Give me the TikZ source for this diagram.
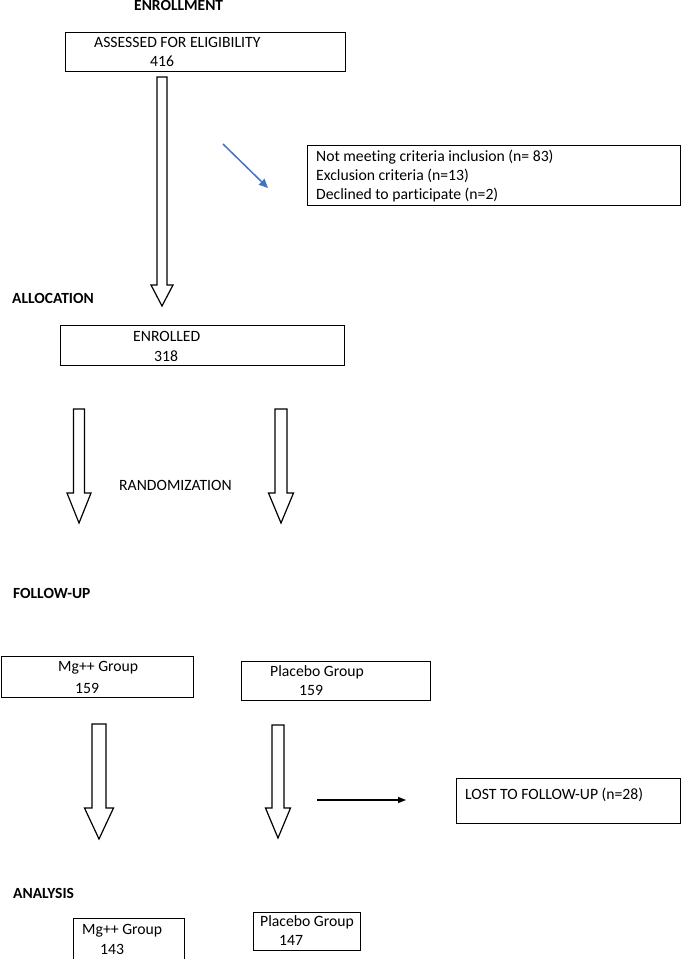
\documentclass[tikz,border=0pt]{standalone}
\usepackage{fontspec}
\setmainfont{Carlito}[Ligatures=NoCommon]
\usetikzlibrary{arrows.meta}

\definecolor{officeblue}{RGB}{68,114,196}

% hollow block arrow: centre x, top, head base, tip, shaft half width, head half width
\newcommand\blockarrow[6]{%
	\draw[blockarr] (#1-#5,#2) -- (#1+#5,#2) -- (#1+#5,#3) -- (#1+#6,#3)
		-- (#1,#4) -- (#1-#6,#3) -- (#1-#5,#3) -- cycle;
}

\begin{document}
\begin{tikzpicture}[
	x=1pt, y=-1pt,
	every node/.append style = {inner sep=0pt, font=\fontsize{15.7}{19}\selectfont},
	box/.style = {draw, line width=1pt, anchor=north west},
	txt/.style = {anchor=west},
	head/.style = {anchor=west, font=\fontsize{15.5}{19}\selectfont\bfseries},
	blockarr/.style = {draw, line width=1.2pt, fill=white, line join=miter}
]
\useasboundingbox (0,0) rectangle (685,959);

% stage headings
\node[head] (henroll) at (134,5) {ENROLLMENT};
\node[head] (halloc) at (12,298) {ALLOCATION};
\node[head] (hfollow) at (13,593) {FOLLOW-UP};
\node[head] (hanalys) at (13,893) {ANALYSIS};

% boxes
\node[box, minimum width=280, minimum height=39] (elig) at (65,32) {};
\node[box, minimum width=373, minimum height=60] (excl) at (307,145) {};
\node[box, minimum width=284, minimum height=40] (enrol) at (60,325) {};
\node[box, minimum width=192, minimum height=41] (mgfol) at (0.5,656) {};
\node[box, minimum width=189, minimum height=39] (plfol) at (241,661) {};
\node[box, minimum width=224, minimum height=45] (lost) at (456,778) {};
\node[box, minimum width=111, minimum height=46] (mgana) at (73,918) {};
\node[box, minimum width=107, minimum height=38] (plana) at (253,912) {};

% box texts
\node[txt] (tel1) at (94,42) {ASSESSED FOR ELIGIBILITY};
\node[txt] (tel2) at (150,61) {416};
\node[txt, align=left] (texcl) at (316,176) {Not meeting criteria inclusion (n= 83)\\
	Exclusion criteria (n=13)\\
	Declined to participate (n=2)};
\node[txt] (ten1) at (133,336) {ENROLLED};
\node[txt] (ten2) at (154,356) {318};
\node[txt] (trand) at (119,485) {RANDOMIZATION};
\node[txt] (tmf1) at (58,668) {Mg++ Group};
\node[txt] (tmf2) at (75,688) {159};
\node[txt] (tpf1) at (270,672) {Placebo Group};
\node[txt] (tpf2) at (299,690) {159};
\node[txt] (tlost) at (465,795) {LOST TO FOLLOW-UP (n=28)};
\node[txt] (tma1) at (82,931) {Mg++ Group};
\node[txt] (tma2) at (100,949) {143};
\node[txt] (tpa1) at (260,922) {Placebo Group};
\node[txt] (tpa2) at (279,940) {147};

% hollow arrows
\blockarrow{162}{77}{285}{306}{5}{11}
\blockarrow{79}{409}{493}{523}{5.5}{12}
\blockarrow{281}{409}{493}{523}{6}{12.5}
\blockarrow{99}{724}{808}{839}{7}{14.5}
\blockarrow{278}{725}{808}{838}{6}{12.5}

% thin arrows
\coordinate (bl1) at (223,144);
\coordinate (bl2) at (268,188);
\draw[officeblue, line width=1.5pt, -{Triangle[length=9pt,width=8pt]}] (bl1) -- (bl2);
\coordinate (lo1) at (317,800);
\coordinate (lo2) at (406,800);
\draw[line width=1.2pt, -{Triangle[length=8pt,width=6pt]}] (lo1) -- (lo2);

\end{tikzpicture}
\end{document}
